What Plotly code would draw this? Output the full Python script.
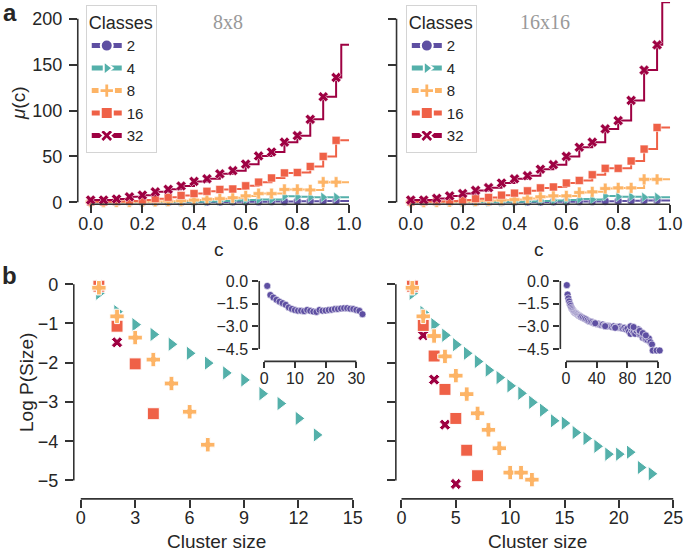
import plotly.graph_objects as go

W, H = 685, 555

# ---------------- data: panel a (mu(c)) ----------------
classes = ["2", "4", "8", "16", "32"]
c_marks = [0.0, 0.05, 0.1, 0.15, 0.2, 0.25, 0.3, 0.35, 0.4, 0.45,
           0.5, 0.55, 0.6, 0.65, 0.7, 0.75, 0.8, 0.85, 0.9, 0.95]
c_jump = 0.97
c_end = 1.0

mu8_c2 = [0.1, 0.1, 0.1, 0.1, 0.1, 0.2, 0.2, 0.2, 0.3, 0.3, 0.4, 0.5, 0.6, 0.7, 0.8, 1.0, 1.2, 1.3, 1.5, 1.5]
mu8_c4 = [0.2, 0.2, 0.2, 0.3, 0.3, 0.4, 0.4, 0.5, 0.6, 1.0, 1.5, 2.0, 2.5, 3.0, 3.0, 6.5, 6.0, 5.5, 5.5, 5.5]
mu8_c8 = [0.3, 0.3, 0.4, 0.5, 0.7, 1.0, 1.3, 1.7, 2.5, 3.5, 4.0, 5.0, 7.0, 9.5, 9.5, 14.0, 14.0, 13.5, 22.0, 22.0]
mu8_c16 = [0.5, 0.5, 1.0, 1.5, 2.5, 4.0, 5.5, 7.5, 9.5, 12.0, 14.0, 14.5, 18.0, 22.0, 26.5, 32.0, 32.5, 39.0, 50.0, 67.5]
mu8_c32 = [2.5, 2.5, 3.6, 6.0, 7.8, 11.4, 14.2, 17.8, 22.8, 25.6, 31.0, 34.5, 41.6, 50.5, 54.8, 65.5, 72.6, 90.4, 115.0, 136.0]
mu8_end = [1.5, 5.5, 22.0, 67.5, 171.5]

mu16_c2 = [0.1, 0.1, 0.1, 0.1, 0.1, 0.2, 0.2, 0.2, 0.3, 0.3, 0.4, 0.5, 0.6, 0.8, 1.0, 1.3, 1.5, 1.7, 2.0, 2.0]
mu16_c4 = [0.2, 0.2, 0.2, 0.3, 0.3, 0.4, 0.4, 0.5, 0.6, 1.0, 1.5, 2.0, 2.5, 3.5, 3.0, 7.0, 6.0, 6.0, 5.5, 5.5]
mu16_c8 = [0.3, 0.3, 0.5, 0.7, 1.0, 1.5, 2.0, 2.5, 3.0, 4.3, 6.0, 7.0, 7.0, 10.7, 11.4, 15.0, 15.7, 15.7, 25.0, 25.0]
mu16_c16 = [0.5, 0.8, 1.0, 1.5, 2.5, 4.0, 5.3, 7.8, 10.0, 12.5, 15.7, 16.7, 21.0, 23.8, 30.0, 37.0, 37.0, 45.0, 58.0, 81.5]
mu16_c32 = [2.5, 2.5, 4.3, 7.0, 9.6, 13.0, 16.0, 21.0, 25.6, 29.0, 36.0, 41.0, 50.0, 60.0, 65.5, 80.0, 89.0, 111.0, 144.0, 171.5]
mu16_end = [2.0, 5.5, 25.0, 81.5, 218.0]

# ---------------- data: panel b (log P(size)) ----------------
ps8_c4_x = [1, 2, 3, 4, 5, 6, 7, 8, 9, 10, 11, 12, 13]
ps8_c4_y = [-0.23, -0.70, -1.03, -1.28, -1.53, -1.76, -2.01, -2.26, -2.44, -2.79, -3.04, -3.42, -3.84]
ps8_c8_x = [1, 2, 3, 4, 5, 6, 7]
ps8_c8_y = [-0.09, -0.82, -1.36, -1.92, -2.53, -3.25, -4.09]
ps8_c16_x = [1, 2, 3, 4]
ps8_c16_y = [-0.05, -1.07, -2.03, -3.30]
ps8_c32_x = [1, 2]
ps8_c32_y = [-0.03, -1.48]

ps16_c4_x = [1, 2, 3, 4, 5, 6, 7, 8, 9, 10, 11, 12, 13, 14, 15, 16, 17, 18, 19, 20, 21, 22, 23]
ps16_c4_y = [-0.23, -0.72, -1.03, -1.30, -1.54, -1.76, -1.97, -2.19, -2.38, -2.59, -2.78, -3.01,
             -3.21, -3.48, -3.54, -3.78, -3.93, -4.13, -4.33, -4.33, -4.28, -4.67, -4.83]
ps16_c8_x = [1, 2, 3, 4, 5, 6, 7, 8, 9, 10, 11, 12]
ps16_c8_y = [-0.09, -0.82, -1.32, -1.84, -2.33, -2.80, -3.29, -3.71, -4.18, -4.80, -4.80, -4.98]
ps16_c16_x = [1, 2, 3, 4, 5, 6, 7]
ps16_c16_y = [-0.05, -1.05, -1.83, -2.68, -3.42, -4.23, -4.88]
ps16_c32_x = [1, 2, 3, 4, 5]
ps16_c32_y = [-0.03, -1.30, -2.43, -3.58, -5.09]

# insets (2 classes)
in8_x = [1, 2, 3, 4, 5, 6, 7, 8, 9, 10, 11, 12, 13, 14, 15, 16,
         17, 18, 19, 20, 21, 22, 23, 24, 25, 26, 27, 28, 29, 30, 31, 32]
in8_y = [-0.33, -0.93, -1.10, -1.25, -1.37, -1.47, -1.58, -1.75, -1.85, -1.93, -1.97, -1.97,
         -2.00, -1.92, -1.98, -2.03, -2.05, -1.92, -1.97, -1.96, -1.92, -1.90, -1.86, -1.86,
         -1.82, -1.80, -1.80, -1.84, -1.86, -1.92, -1.98, -2.20]
in16_x = [1, 2, 3, 4, 5, 6, 7, 8, 9, 10, 11, 12, 13, 14, 15, 16, 17, 18, 19, 20,
          22, 24, 26, 28, 30, 32, 34, 36, 38, 40, 42, 44, 46, 48, 50, 52, 54, 56, 58, 60,
          62, 64, 66, 68, 70, 72, 74, 76, 78, 80, 82, 84, 86, 88, 90, 92, 94, 96, 98, 100,
          102, 104, 106, 108, 110, 112, 113, 118, 122,
          84, 88, 96, 100, 104, 38, 51, 64]
in16_y = [-0.28, -0.90, -1.15, -1.35, -1.52, -1.65, -1.78, -1.86, -1.93, -2.00, -2.05, -2.10,
          -2.13, -2.17, -2.20, -2.25, -2.28, -2.32, -2.35, -2.38,
          -2.43, -2.48, -2.53, -2.60, -2.66, -2.70, -2.72, -2.78, -2.80, -2.85, -2.83, -2.90,
          -2.92, -2.88, -2.95, -2.97, -3.00, -2.98, -3.02, -3.05,
          -3.00, -3.08, -3.05, -3.10, -3.02, -3.12, -3.15, -3.10, -3.20, -3.15, -3.35, -3.50,
          -3.25, -3.40, -3.50, -3.30, -3.20, -3.55, -3.60, -3.75,
          -3.70, -3.85, -3.90, -3.80, -4.05, -4.20, -4.60, -4.60, -4.60,
          -3.00, -3.05, -3.30, -3.45, -3.60, -2.80, -2.99, -3.10]

# ---------------- style ----------------
colors = {"2": "#5e4fa2", "4": "#54b0aa", "8": "#fdb466", "16": "#ef6147", "32": "#9e0142"}
symbols = {"2": "circle", "4": "triangle-right", "8": "cross", "16": "square", "32": "x"}
top_sizes = {"2": 8, "4": 9, "8": 9, "16": 8, "32": 9}
bot_sizes = {"4": 13, "8": 12, "16": 12, "32": 10}
FONT = "Liberation Sans, Arial, sans-serif"
AX = "#333333"
TXT = "#262626"


def px(x):
    return x / W


def py(y):
    return 1 - y / H


fig = go.Figure()

# panel a
for ax_id, legend_id, data, ends in [
    ("", "legend", [mu8_c2, mu8_c4, mu8_c8, mu8_c16, mu8_c32], mu8_end),
    ("2", "legend2", [mu16_c2, mu16_c4, mu16_c8, mu16_c16, mu16_c32], mu16_end),
]:
    for k, vals, endv in zip(classes, data, ends):
        fig.add_trace(go.Scatter(
            x=[c_marks[-1], c_jump, c_end], y=[vals[-1], endv, endv],
            mode="lines", line=dict(color=colors[k], width=2, shape="hv"),
            showlegend=False, cliponaxis=False, hoverinfo="skip",
            xaxis="x" + ax_id, yaxis="y" + ax_id))
        fig.add_trace(go.Scatter(
            x=c_marks, y=vals, mode="lines+markers", name=k,
            line=dict(color=colors[k], width=2, shape="hv"),
            marker=dict(symbol=symbols[k], size=top_sizes[k], color=colors[k],
                        line=dict(color="white", width=0.5)),
            cliponaxis=False, legend=legend_id,
            xaxis="x" + ax_id, yaxis="y" + ax_id))

# panel b
for ax_id, series in [
    ("3", [("4", ps8_c4_x, ps8_c4_y), ("32", ps8_c32_x, ps8_c32_y),
           ("16", ps8_c16_x, ps8_c16_y), ("8", ps8_c8_x, ps8_c8_y)]),
    ("4", [("4", ps16_c4_x, ps16_c4_y), ("32", ps16_c32_x, ps16_c32_y),
           ("16", ps16_c16_x, ps16_c16_y), ("8", ps16_c8_x, ps16_c8_y)]),
]:
    for k, xs, ys in series:
        fig.add_trace(go.Scatter(
            x=xs, y=ys, mode="markers", showlegend=False,
            marker=dict(symbol=symbols[k], size=bot_sizes[k], color=colors[k],
                        line=dict(color="white", width=1)),
            cliponaxis=False, xaxis="x" + ax_id, yaxis="y" + ax_id))

for ax_id, xs, ys in [("5", in8_x, in8_y), ("6", in16_x, in16_y)]:
    fig.add_trace(go.Scatter(
        x=xs, y=ys, mode="markers", showlegend=False,
        marker=dict(symbol="circle", size=7, color=colors["2"],
                    line=dict(color="white", width=0.6)),
        cliponaxis=False, xaxis="x" + ax_id, yaxis="y" + ax_id))


def axis(domain, rng, tickvals, fmt=None, labels=True, anchor=None, size=18, ticklen=8,
         standoff=0):
    d = dict(domain=domain, range=rng, tickvals=tickvals, showgrid=False, zeroline=False,
             showline=False, ticks="outside", ticklen=ticklen, tickwidth=1.5, tickcolor=AX,
             showticklabels=labels, tickfont=dict(size=size, color=TXT, family=FONT),
             anchor=anchor, ticklabelstandoff=standoff)
    if fmt:
        d["tickformat"] = fmt
    return d


top_y = [py(206), py(0)]
bot_y = [py(506), py(275)]
ins_y = [py(366), py(278)]
XS = -5
YS = 3

layout = dict(
    width=W, height=H, margin=dict(l=0, r=0, t=0, b=0),
    paper_bgcolor="white", plot_bgcolor="rgba(0,0,0,0)",
    font=dict(family=FONT, color=TXT),
    xaxis=axis([px(78), px(363)], [-0.05, 1.05], [0, 0.2, 0.4, 0.6, 0.8, 1.0], ".1f", anchor="y", standoff=XS),
    yaxis=axis(top_y, [-2.14, 218.2], [0, 50, 100, 150, 200], anchor="x", standoff=YS),
    xaxis2=axis([px(397.7), 1.0], [-0.055, 1.05], [0, 0.2, 0.4, 0.6, 0.8, 1.0], ".1f", anchor="y2", standoff=XS),
    yaxis2=axis(top_y, [-2.14, 218.2], [0, 50, 100, 150, 200], labels=False, anchor="x2"),
    xaxis3=axis([px(74), px(363)], [-0.385, 15.5], [0, 3, 6, 9, 12, 15], anchor="y3", standoff=XS),
    yaxis3=axis(bot_y, [-5.47, 0.31], [0, -1, -2, -3, -4, -5], anchor="x3", standoff=YS),
    xaxis4=axis([px(397), 1.0], [-0.52, 25.9], [0, 5, 10, 15, 20, 25], anchor="y4", standoff=XS),
    yaxis4=axis(bot_y, [-5.47, 0.31], [0, -1, -2, -3, -4, -5], labels=False, anchor="x4"),
    xaxis5=axis([px(260), px(370)], [-1.62, 34.1], [0, 10, 20, 30], anchor="y5", size=16, ticklen=6, standoff=-4),
    yaxis5=axis(ins_y, [-5.32, 0.39], [0, -1.5, -3.0, -4.5], ".1f", anchor="x5", size=16, ticklen=6, standoff=1),
    xaxis6=axis([px(562), px(672)], [-7.4, 135.5], [0, 40, 80, 120], anchor="y6", size=16, ticklen=6, standoff=-4),
    yaxis6=axis(ins_y, [-5.32, 0.39], [0, -1.5, -3.0, -4.5], ".1f", anchor="x6", size=16, ticklen=6, standoff=1),
)

leg_common = dict(
    xanchor="left", yanchor="top", bgcolor="rgba(255,255,255,0.85)",
    bordercolor="#d4d4d4", borderwidth=1, font=dict(size=15, family=FONT, color=TXT),
    title=dict(text="Classes", font=dict(size=18, family=FONT, color=TXT)),
    tracegroupgap=0, itemsizing="constant")
layout["legend"] = dict(x=px(86), y=py(3), **leg_common)
layout["legend2"] = dict(x=px(407), y=py(3), **leg_common)

fig.update_layout(**layout)

# trimmed spines
spines = [
    ("x", "y", 0, 1.0, 0, 200),
    ("x2", "y2", 0, 1.0, 0, 200),
    ("x3", "y3", 0, 15, 0, -5),
    ("x4", "y4", 0, 25, 0, -5),
    ("x5", "y5", 0, 30, 0, -4.5),
    ("x6", "y6", 0, 120, 0, -4.5),
]
for xa, ya, x0, x1, y0, y1 in spines:
    fig.add_shape(type="line", xref=xa, yref=ya + " domain", x0=x0, x1=x1, y0=0, y1=0,
                  line=dict(color=AX, width=1.6), layer="above")
    fig.add_shape(type="line", xref=xa + " domain", yref=ya, x0=0, x1=0, y0=y0, y1=y1,
                  line=dict(color=AX, width=1.6), layer="above")


def note(text, x, y, size, angle=0, color=TXT, family=FONT, bold=False):
    if bold:
        text = "<b>" + text + "</b>"
    fig.add_annotation(text=text, x=px(x), y=py(y), xref="paper", yref="paper",
                       showarrow=False, textangle=angle, xanchor="center", yanchor="middle",
                       font=dict(size=size, color=color, family=family))


note("a", 10, 11, 24, bold=True)
note("b", 10, 279, 24, bold=True)
note("8x8", 229, 20.5, 20, color="#999999", family="Liberation Serif, Times New Roman, serif")
note("16x16", 547, 20.5, 20, color="#999999", family="Liberation Serif, Times New Roman, serif")
note("<i>μ</i>(c)", 18, 103, 19, angle=-90)
note("c", 220, 252, 19)
note("c", 541, 252, 19)
note("Log P(Size)", 26, 387, 19, angle=-90)
note("Cluster size", 217, 549, 19)
note("Cluster size", 539, 549, 19)

fig.write_html("out.html", post_script="document.body.style.margin='0px';",
               config={"displayModeBar": False})
